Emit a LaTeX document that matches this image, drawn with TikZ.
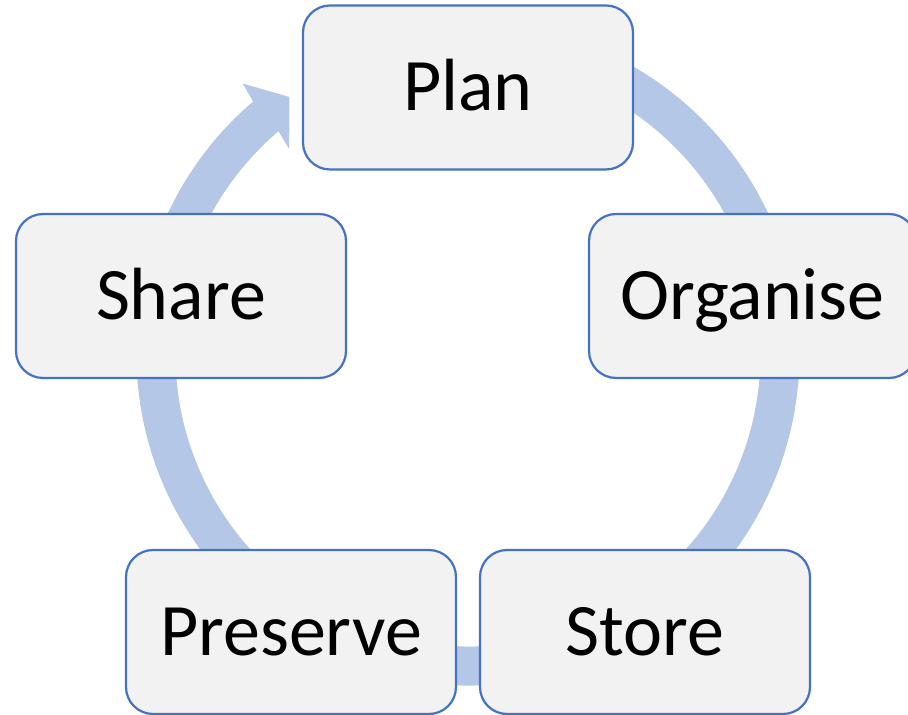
\documentclass[tikz,border=0pt]{standalone}
\usepackage{fontspec}
\setmainfont{Carlito}
\usetikzlibrary{calc}
\definecolor{ringblue}{HTML}{B4C7E7}
\definecolor{boxline}{HTML}{4472C4}
\definecolor{boxfill}{HTML}{F2F2F2}
\begin{document}
\begin{tikzpicture}[x=1pt,y=1pt,
  stagebox/.style={draw=boxline, fill=boxfill, line width=2.2pt, rounded corners=27pt,
    minimum width=330pt, minimum height=164pt, inner sep=0pt,
    text height=46.8pt, text depth=0pt, font=\fontsize{74}{88}\selectfont},
  ring/.style={draw=ringblue, line width=39pt}]
\useasboundingbox (0,0) rectangle (908,715);
\clip (0,0) rectangle (908,715);
\coordinate (c) at (468,361);
% ring
\draw[ring] (c) ++(80:312) arc[start angle=80,end angle=-230,radius=312];
\fill[ringblue] ($(c)+(130.4:331.5)$) -- ($(c)+(129.8:352)$) -- ($(c)+(124.8:313)$)
  -- ($(c)+(131.1:272)$) -- ($(c)+(130.4:292.5)$) -- cycle;
% stages
\node[stagebox] (plan) at (468,627.5) {Plan};
\node[stagebox, minimum width=327pt] (organise) at (752.5,419) {Organise};
\node[stagebox] (store) at (645,83) {Store};
\node[stagebox] (preserve) at (291,83) {Preserve};
\node[stagebox] (share) at (181,419) {Share};
\end{tikzpicture}
\end{document}
